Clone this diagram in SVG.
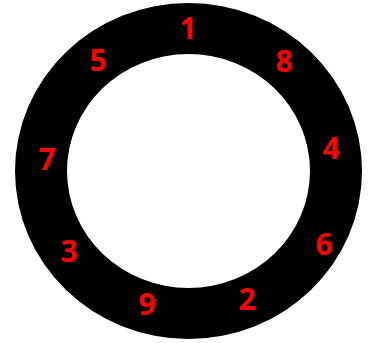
<svg xmlns="http://www.w3.org/2000/svg" width="370" height="343" viewBox="0 0 370 343">
<style>
.n{font-family:"Open Sans","Liberation Sans",sans-serif;font-weight:bold;font-size:30px;fill:#ff0000;text-anchor:middle}
</style>
<rect width="370" height="343" fill="#ffffff"/>
<g id="ring">
<path d="M15,171a173.5,168 0 1,0 347,0a173.5,168 0 1,0 -347,0ZM67,171a121.5,117 0 1,1 243,0a121.5,117 0 1,1 -243,0Z" fill="#000000" fill-rule="evenodd"/>
</g>
<g id="labels">
<text class="n" x="188" y="39">1</text>
<text class="n" x="98" y="71">5</text>
<text class="n" x="284" y="72">8</text>
<text class="n" x="47" y="170">7</text>
<text class="n" x="331" y="159">4</text>
<text class="n" x="69" y="262">3</text>
<text class="n" x="324" y="255">6</text>
<text class="n" x="147" y="315">9</text>
<text class="n" x="247" y="310">2</text>
</g>
</svg>
